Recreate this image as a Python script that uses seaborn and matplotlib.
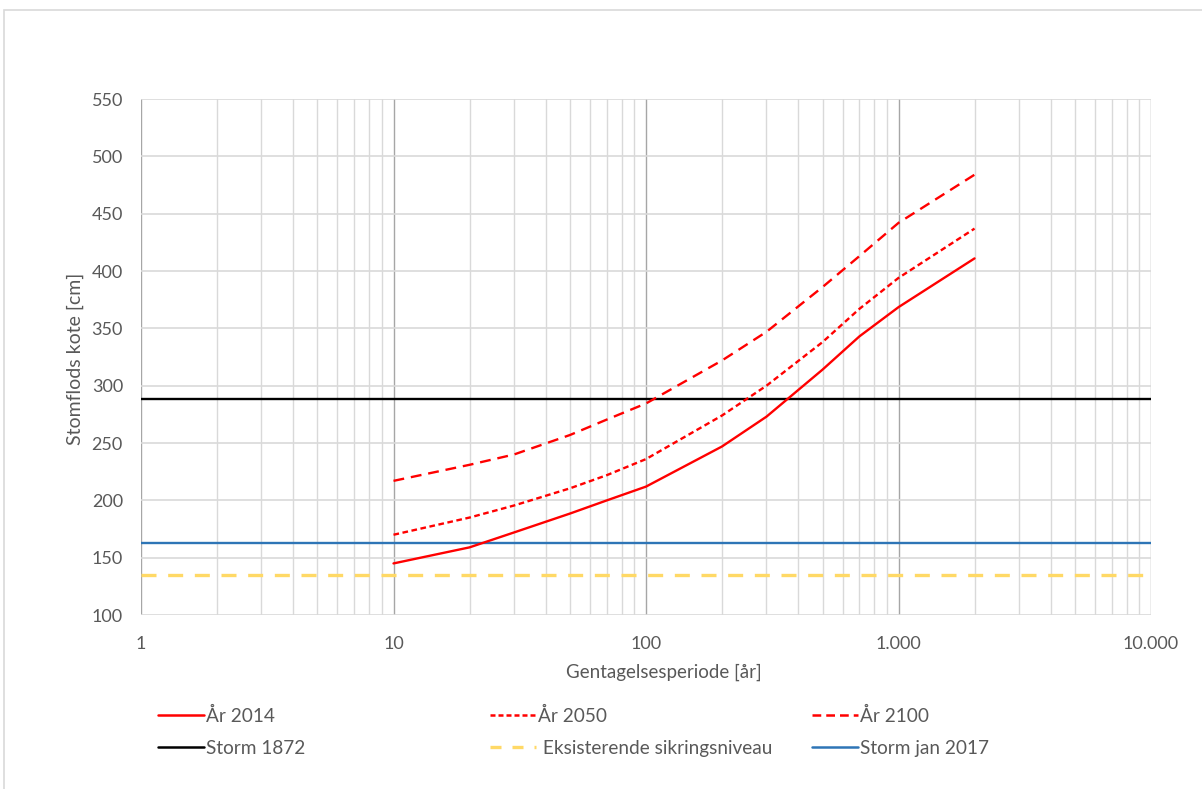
import numpy as np
import pandas as pd
import seaborn as sns
from matplotlib import pyplot as plt
from matplotlib.lines import Line2D
from matplotlib.patches import Rectangle
from matplotlib.ticker import FuncFormatter, LogLocator

# return periods [år] and storm surge levels [cm]
periods = [10, 20, 30, 50, 70, 100, 200, 300, 500, 700, 1000, 2000]
level_2014 = [145, 159, 172, 188.5, 200, 212, 247, 273, 314, 343, 368.5, 411]
level_2050 = [170, 185, 195.5, 210.5, 222, 236, 274, 300, 338, 367, 394, 437]
level_2100 = [217, 231, 240, 257, 270.5, 284.5, 322, 347, 386, 413, 442, 484]
series_names = ["År 2014", "År 2050", "År 2100"]

storm_1872 = 288
storm_2017 = 163
sikring = 135

curves = pd.concat([
    pd.DataFrame({"periode": periods, "kote": vals, "serie": name})
    for name, vals in zip(series_names, [level_2014, level_2050, level_2100])
])

sns.set_theme(style="white")
plt.rcParams["font.family"] = ["Lato", "DejaVu Sans"]
grey_txt = "#595959"

fig = plt.figure(figsize=(12.02, 7.89), dpi=100)
ax = fig.add_axes([0.1173, 0.2205, 0.8403, 0.654])

# horizontal reference levels
ax.axhline(storm_1872, color="black", lw=1.7, zorder=3)
ax.axhline(sikring, color="#FFD966", lw=2.4, dashes=(4.5, 3.5), zorder=3)
ax.axhline(storm_2017, color="#2E75B6", lw=1.7, zorder=3)

dash_map = {"År 2014": "", "År 2050": (2.4, 1.5), "År 2100": (4.6, 2.9)}
sns.lineplot(data=curves, x="periode", y="kote", hue="serie", style="serie",
             palette=["#FF0000"] * 3, dashes=dash_map, lw=1.7, ax=ax,
             legend=False, zorder=4)

ax.set_xscale("log")
ax.set_xlim(1, 10000)
ax.set_ylim(100, 550)
ax.set_yticks(range(100, 551, 50))
ax.xaxis.set_major_locator(LogLocator(base=10, numticks=10))
ax.xaxis.set_minor_locator(LogLocator(base=10, subs=np.arange(2, 10), numticks=20))
ax.xaxis.set_major_formatter(FuncFormatter(lambda v, p: f"{int(round(v)):,}".replace(",", ".")))

ax.grid(True, which="major", axis="y", color="#D9D9D9", lw=1.2)
ax.grid(True, which="major", axis="x", color="#A6A6A6", lw=1.0)
ax.grid(True, which="minor", axis="x", color="#D9D9D9", lw=1.0)
for s in ax.spines.values():
    s.set_visible(False)
ax.tick_params(axis="both", which="both", length=0, labelsize=13, colors=grey_txt)
ax.tick_params(axis="y", pad=13)
ax.tick_params(axis="x", pad=15)

ax.set_xlabel("Gentagelsesperiode [år]", fontsize=13.5, color=grey_txt)
ax.set_ylabel("Stomflods kote [cm]", fontsize=14, color=grey_txt)
ax.xaxis.set_label_coords(0.518, -0.095)
ax.yaxis.set_label_coords(-0.0564, 0.497)

# legend in three columns, like the Excel layout
cols = [
    [("År 2014", dict(color="#FF0000", lw=1.8)),
     ("Storm 1872", dict(color="black", lw=1.8))],
    [("År 2050", dict(color="#FF0000", lw=1.8, dashes=(2.0, 1.2))),
     (" Eksisterende sikringsniveau", dict(color="#FFD966", lw=2.4, dashes=(3.3, 3.3)))],
    [("År 2100", dict(color="#FF0000", lw=1.8, dashes=(3.5, 2.0))),
     ("Storm jan 2017", dict(color="#2E75B6", lw=1.8))],
]
col_x = [0.1314, 0.4077, 0.6755]
for x0, entries in zip(col_x, cols):
    handles = [Line2D([], [], **kw) for _, kw in entries]
    labels = [name for name, _ in entries]
    fig.legend(handles, labels, loc="upper left", bbox_to_anchor=(x0, 0.1046),
               bbox_transform=fig.transFigure, frameon=False, fontsize=13.7,
               handlelength=2.4, handletextpad=0.12, labelspacing=0.79,
               labelcolor=grey_txt, borderaxespad=0, borderpad=0)

fig.patches.append(Rectangle((4 / 1202, -0.05), 1.1, 1 - 10 / 789 + 0.05,
                             transform=fig.transFigure, fill=False,
                             edgecolor="#D9D9D9", lw=1.2))

fig.savefig("out.png", dpi=100)
